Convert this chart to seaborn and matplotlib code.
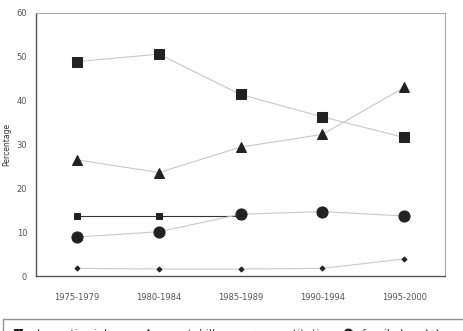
import numpy as np
import pandas as pd
import matplotlib
import matplotlib.pyplot as plt
import seaborn as sns

matplotlib.use('Agg')

# Data
periods = ["1975-1979", "1980-1984", "1985-1989", "1990-1994", "1995-2000"]
violence = [48.9, 50.6, 41.4, 36.3, 31.6]
illness = [26.5, 23.6, 29.4, 32.3, 43.0]
prostitution = [13.7, 13.7, 13.7, np.nan, np.nan]
family = [8.9, 10.1, 14.1, 14.7, 13.7]
other = [1.75, 1.6, 1.6, 1.75, 3.9]

series_names = ["domestic violence", "mental illness", "prostitution",
                "family breakdown", "other"]
series_values = [violence, illness, prostitution, family, other]

# marker, marker size, line colour
styles = [
    ("s", 7, "#c8c8c8"),
    ("^", 7, "#c8c8c8"),
    ("s", 4, "#333333"),
    ("o", 8, "#c8c8c8"),
    ("D", 2.5, "#c8c8c8"),
]

sns.set_style("white")
plt.rcParams['font.family'] = ['DejaVu Sans']

fig = plt.figure(figsize=(4.64, 3.31), dpi=100)
ax = fig.add_axes([0.078, 0.166, 0.881, 0.795])

for name, vals, (mk, ms, lc) in zip(series_names, series_values, styles):
    df = pd.DataFrame({"period": periods, "value": vals}).dropna()
    sns.lineplot(data=df, x="period", y="value", ax=ax, color=lc, linewidth=0.8,
                 marker=mk, markersize=ms, markerfacecolor="#222222",
                 markeredgecolor="#222222", label=name, legend=False)

ax.set_xlim(-0.5, 4.5)
ax.set_ylim(0, 60)
ax.set_yticks(range(0, 61, 10))
ax.set_xticks(range(len(periods)))
ax.set_xticklabels(periods)
ax.set_xticks(np.arange(0.5, 4.6, 1.0), minor=True)
ax.tick_params(axis="x", which="major", length=0, pad=12, labelsize=6, labelcolor="#555555")
ax.tick_params(axis="x", which="minor", length=3, direction="in", color="#555555", width=0.8)
ax.tick_params(axis="y", length=3, width=0.8, color="#555555", labelsize=6, labelcolor="#555555")
ax.set_xlabel("")
ax.set_ylabel("Percentage", fontsize=5.5, color="#333333", labelpad=4)

for side in ["left", "bottom"]:
    ax.spines[side].set_color("#555555")
    ax.spines[side].set_linewidth(1.0)
for side in ["top", "right"]:
    ax.spines[side].set_color("#aaaaaa")
    ax.spines[side].set_linewidth(0.8)

handles, labels = ax.get_legend_handles_labels()
leg = fig.legend(handles, labels, loc="upper left", bbox_to_anchor=(0.006, 0.037),
                 ncol=5, fontsize=8, frameon=True, fancybox=False,
                 edgecolor="#777777", handlelength=1.0, columnspacing=0.8,
                 borderpad=0.9, borderaxespad=0, markerscale=0.8,
                 labelcolor="#444444")
leg.get_frame().set_linewidth(1.0)

fig.savefig("out.png", dpi=100)
